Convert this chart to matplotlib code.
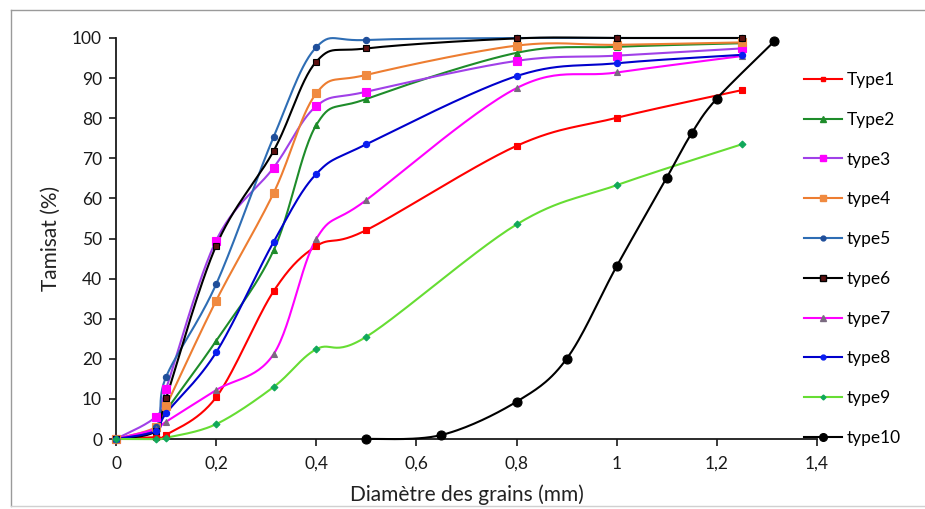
import numpy as np
import matplotlib
matplotlib.use("Agg")
import matplotlib.pyplot as plt
from matplotlib.lines import Line2D

plt.rcParams['font.family'] = ['Lato', 'DejaVu Sans']

# Sieve openings (mm) and cumulative passing (%)
sieves = [0, 0.08, 0.1, 0.2, 0.315, 0.4, 0.5, 0.8, 1.0, 1.25]
type1 = [0, 0.5, 1.0, 10.4, 36.9, 48.1, 52.1, 73.1, 80.1, 87.0]
type2 = [0, 2.0, 7.0, 24.5, 47.1, 78.3, 84.8, 96.3, 97.8, 98.7]
type3 = [0, 5.6, 12.5, 49.5, 67.7, 83.0, 86.6, 94.3, 95.6, 97.4]
type4 = [0, 3.0, 8.2, 34.5, 61.4, 86.2, 90.8, 98.1, 98.3, 98.9]
type5 = [0, 3.0, 15.5, 38.6, 75.4, 97.7, 99.5, 100, 100, 100]
type6 = [0, 2.0, 10.1, 48.2, 71.9, 94.1, 97.4, 99.9, 100, 100]
type7 = [0, 2.5, 4.3, 12.2, 21.2, 49.9, 59.6, 87.5, 91.4, 95.5]
type8 = [0, 2.0, 6.4, 21.6, 49.2, 66.1, 73.5, 90.5, 93.7, 95.8]
type9 = [0, 0, 0.3, 3.7, 13.0, 22.4, 25.5, 53.5, 63.3, 73.5]
sieves10 = [0.5, 0.65, 0.8, 0.9, 1.0, 1.1, 1.15, 1.2, 1.315]
type10 = [0, 1.0, 9.3, 20.0, 43.1, 65.2, 76.3, 84.9, 99.2]

xticks = [0, 0.2, 0.4, 0.6, 0.8, 1.0, 1.2, 1.4]
xticklabels = ["0", "0,2", "0,4", "0,6", "0,8", "1", "1,2", "1,4"]
yticks = list(range(0, 101, 10))

W, H = 925, 509
fig = plt.figure(figsize=(W / 100, H / 100), dpi=100)
ax = fig.add_axes([116 / W, 1 - 439 / H, (817 - 116) / W, (439 - 38) / H])
ax.set_xlim(0, 1.4)
ax.set_ylim(0, 100)

# scale factors (pixels per data unit) used to smooth in screen space
sx = (817 - 116) / 1.4
sy = (439 - 38) / 100.0


def smooth(xs, ys, n=30):
    """Bezier smoothing through all points (Catmull-Rom style)."""
    p = np.column_stack([np.asarray(xs) * sx, np.asarray(ys) * sy])
    out = [p[0]]
    m = len(p)
    for i in range(m - 1):
        p0 = p[i - 1] if i > 0 else p[i]
        p1, p2 = p[i], p[i + 1]
        p3 = p[i + 2] if i + 2 < m else p[i + 1]
        c1 = p1 + (p2 - p0) / 6.0
        c2 = p2 - (p3 - p1) / 6.0
        t = np.linspace(0, 1, n)[1:, None]
        seg = ((1 - t) ** 3) * p1 + 3 * ((1 - t) ** 2) * t * c1 \
            + 3 * (1 - t) * t ** 2 * c2 + t ** 3 * p2
        out.extend(seg)
    out = np.array(out)
    return out[:, 0] / sx, out[:, 1] / sy


series = [
    ("Type1", sieves, type1, "#FF0000", "s", "#FF0000", "#FF0000", 4.5),
    ("Type2", sieves, type2, "#1E8C2A", "^", "#1E8C2A", "#1E8C2A", 5),
    ("type3", sieves, type3, "#A040E8", "s", "#FF00FF", "#FF00FF", 5.5),
    ("type4", sieves, type4, "#ED7D31", "s", "#F08A40", "#F08A40", 5.5),
    ("type5", sieves, type5, "#2E6DB4", "o", "#1F4E9A", "#1F4E9A", 4.5),
    ("type6", sieves, type6, "#000000", "s", "#5C1010", "#000000", 5),
    ("type7", sieves, type7, "#FF00FF", "^", "#7A6A80", "#7A6A80", 5),
    ("type8", sieves, type8, "#0000CC", "o", "#0A1EF0", "#0A1EF0", 4.5),
    ("type9", sieves, type9, "#66DD33", "D", "#10A85A", "#10A85A", 3.5),
    ("type10", sieves10, type10, "#000000", "o", "#000000", "#000000", 6.5),
]

handles = []
for name, xs, ys, lc, mk, mfc, mec, ms in series:
    sxv, syv = smooth(xs, ys)
    ax.plot(sxv, syv, color=lc, lw=1.5, clip_on=False, zorder=3)
    ax.plot(xs, ys, ls="none", marker=mk, ms=ms, mfc=mfc, mec=mec,
            mew=0.8, clip_on=False, zorder=4)
    handles.append(Line2D([0], [0], color=lc, lw=1.5, marker=mk, ms=ms - 1,
                          mfc=mfc, mec=mec, label=name))

for s in ("top", "right"):
    ax.spines[s].set_visible(False)
for s in ("left", "bottom"):
    ax.spines[s].set_linewidth(1.3)
    ax.spines[s].set_color("#1a1a1a")

ax.set_xticks(xticks)
ax.set_xticklabels(xticklabels)
ax.set_yticks(yticks)
ax.tick_params(direction="out", length=5, width=1.2, labelsize=12.5,
               colors="#1a1a1a", pad=5)
ax.tick_params(axis="x", pad=7)
ax.set_xlabel("Diamètre des grains (mm)", fontsize=15, labelpad=9,
              color="#222222")
ax.set_ylabel("Tamisat (%)", fontsize=15, labelpad=8, color="#222222")

leg = fig.legend(handles=handles, loc="upper left",
                 bbox_to_anchor=(797 / W, 1 - 65 / H), frameon=False,
                 fontsize=12.5, handlelength=2.2, handletextpad=0.25,
                 labelspacing=1.37, borderaxespad=0)

# light outer frame
fig.add_artist(Line2D([11 / W, 11 / W], [1 - 10 / H, 1 - 506 / H],
                      transform=fig.transFigure, color="#9a9a9a", lw=1))
fig.add_artist(Line2D([11 / W, 1], [1 - 10 / H, 1 - 10 / H],
                      transform=fig.transFigure, color="#9a9a9a", lw=1))
fig.add_artist(Line2D([11 / W, 1], [1 - 506 / H, 1 - 506 / H],
                      transform=fig.transFigure, color="#d0d0d0", lw=1))

fig.savefig("out.png", dpi=100)
